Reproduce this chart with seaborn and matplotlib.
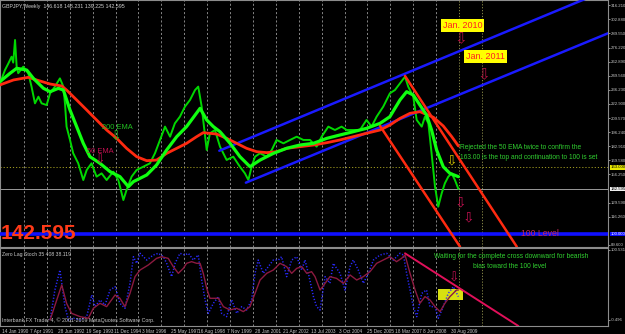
import matplotlib
matplotlib.use("Agg")
import matplotlib.pyplot as plt
import matplotlib.transforms as mtransforms
from matplotlib.patches import Rectangle
import pandas as pd
import seaborn as sns

# ---------------- data ----------------
price_year = [1989.95,1990.17,1990.32,1990.46,1990.53,1990.61,1990.68,1990.75,1990.97,1991.19,
              1991.33,1991.48,1991.63,1991.77,1991.99,1992.14,1992.35,1992.57,1992.72,1992.79,
              1992.86,1993.01,1993.15,1993.37,1993.59,1993.74,1993.95,1994.17,1994.39,1994.61,
              1994.90,1995.12,1995.34,1995.48,1995.70,1995.92,1996.21,1996.50,1996.72,1996.94,
              1997.16,1997.38,1997.59,1997.81,1998.03,1998.25,1998.47,1998.61,1998.76,1998.86,
              1998.98,1999.12,1999.34,1999.56,1999.85,2000.14,2000.43,2000.65,2000.80,2000.94,
              2001.09,2001.31,2001.60,2001.82,2002.03,2002.33,2002.62,2002.91,2003.20,2003.49,
              2003.78,2004.00,2004.29,2004.58,2004.87,2005.09,2005.38,2005.67,2005.96,2006.18,
              2006.40,2006.69,2006.98,2007.20,2007.42,2007.64,2007.78,2008.00,2008.15,2008.37,
              2008.51,2008.66,2008.80,2008.95,2009.09,2009.24,2009.38,2009.53,2009.68,2009.82,
              2009.97]
price_val = [242.4,255.0,261.3,267.6,262.0,283.4,258.2,252.0,258.2,251.9,
             239.3,223.5,229.8,223.5,221.9,233.0,239.3,247.1,239.3,223.5,
             201.5,188.9,176.3,166.8,151.0,160.5,166.8,154.2,157.3,151.0,
             158.9,151.0,132.1,141.6,154.2,160.5,163.6,166.8,176.3,188.9,
             201.5,192.0,204.6,210.9,220.4,226.7,236.1,239.3,220.4,201.5,
             179.4,195.2,198.3,182.6,170.0,173.1,163.6,157.3,151.0,163.6,
             173.1,176.3,173.1,179.4,188.9,185.7,188.9,192.0,188.9,188.9,
             182.6,192.0,201.5,198.3,201.5,198.3,198.3,198.3,207.8,201.5,
             210.9,220.4,233.0,236.1,242.4,248.7,239.3,229.8,207.8,201.5,
             210.9,204.6,176.3,144.7,125.8,138.4,147.9,154.2,157.3,151.0,
             142.6]

ema50_year = [1989.95,1990.39,1990.68,1991.12,1991.41,1991.85,1992.14,1992.50,1992.72,1993.01,
              1993.30,1993.59,1993.88,1994.32,1994.76,1995.19,1995.56,1995.78,1996.36,1996.79,
              1997.23,1997.67,1998.10,1998.69,1998.98,1999.27,1999.56,2000.00,2000.43,2000.87,
              2001.31,2001.89,2002.47,2003.05,2003.64,2004.22,2004.80,2005.38,2005.96,2006.55,
              2006.98,2007.42,2007.71,2008.00,2008.29,2008.58,2008.80,2009.02,2009.31,2009.60,
              2009.97]
ema50_val = [244.0,251.9,256.6,255.0,247.1,237.7,234.5,237.7,236.1,217.2,
             201.5,185.7,173.1,166.8,158.9,154.2,144.7,149.5,155.8,165.2,
             179.4,192.0,201.5,218.8,207.8,201.5,196.7,185.7,173.1,163.6,
             169.9,176.2,181.0,184.1,185.7,190.4,193.6,196.7,199.9,204.6,
             210.9,226.7,234.5,231.4,221.9,212.5,198.3,179.4,163.6,157.3,
             154.2]

ema200_year = [1989.95,1990.54,1991.19,1991.55,1992.14,1992.65,1992.86,1993.30,1993.74,1994.17,
               1994.61,1995.05,1995.48,1995.92,1996.36,1996.79,1997.23,1997.67,1998.10,1998.54,
               1998.83,1999.41,1999.85,2000.29,2000.72,2001.16,2001.60,2002.03,2002.47,2003.05,
               2003.64,2004.22,2004.80,2005.38,2005.96,2006.55,2006.98,2007.42,2007.86,2008.29,
               2008.88,2009.31,2009.68,2009.97]
ema200_val = [240.9,245.6,248.1,245.6,241.8,239.9,236.1,226.7,217.2,207.8,
              198.3,190.4,181.0,173.1,169.3,169.9,176.2,181.0,185.7,192.0,
              195.8,194.5,190.4,185.7,181.0,177.8,176.9,177.8,181.0,182.5,
              184.1,186.3,188.9,192.0,195.2,198.3,203.0,209.3,214.1,215.6,
              210.3,202.1,192.0,183.2]

slow_year = [1992.14,1992.65,1992.86,1993.08,1993.45,1993.81,1994.03,1994.32,1994.61,1994.98,
             1995.19,1995.41,1995.63,1995.85,1996.07,1996.43,1996.79,1997.01,1997.30,1997.52,
             1997.74,1997.96,1998.10,1998.32,1998.54,1998.69,1998.83,1998.98,1999.12,1999.49,
             1999.71,1999.99,2000.29,2000.58,2000.87,2001.09,2001.31,2001.60,2001.89,2002.18,
             2002.47,2002.69,2002.91,2003.13,2003.35,2003.56,2003.71,2003.93,2004.15,2004.36,
             2004.65,2004.95,2005.24,2005.53,2005.82,2006.11,2006.40,2006.69,2006.98,2007.27,
             2007.49,2007.64,2007.86,2008.08,2008.29,2008.51,2008.73,2008.95,2009.17,2009.38,
             2009.60,2009.89,2009.97]
slow_val = [2.8,51.4,25.9,12.0,7.4,5.1,19.0,25.9,21.3,37.5,
            32.9,21.3,39.8,63.0,72.2,79.2,88.4,90.7,88.4,76.9,
            67.6,74.5,81.5,83.8,81.5,81.5,67.6,46.8,32.9,32.9,
            21.3,16.7,19.0,14.4,21.3,39.8,58.3,67.6,72.2,81.5,
            76.9,67.6,74.5,76.9,67.6,69.9,63.0,44.4,53.7,63.0,
            60.6,53.7,65.3,58.3,63.0,69.9,81.5,86.1,90.7,83.8,
            88.4,93.1,67.6,44.4,25.9,35.2,30.6,21.3,14.4,25.9,
            35.2,44.4,44.4]

fast_year = [1992.14,1992.35,1992.57,1992.79,1992.94,1993.16,1993.45,1993.74,1993.96,1994.10,
             1994.32,1994.54,1994.76,1994.98,1995.19,1995.41,1995.63,1995.78,1995.92,1996.07,
             1996.36,1996.65,1996.87,1997.09,1997.23,1997.45,1997.60,1997.81,1998.03,1998.18,
             1998.40,1998.61,1998.76,1998.91,1999.05,1999.27,1999.49,1999.63,1999.85,2000.07,
             2000.29,2000.51,2000.72,2000.94,2001.09,2001.23,2001.45,2001.67,2001.89,2002.11,
             2002.25,2002.47,2002.69,2002.91,2003.13,2003.27,2003.42,2003.64,2003.78,2003.93,
             2004.15,2004.36,2004.51,2004.80,2005.02,2005.24,2005.38,2005.60,2005.82,2006.04,
             2006.26,2006.55,2006.84,2007.13,2007.42,2007.57,2007.71,2007.86,2008.00,2008.15,
             2008.37,2008.58,2008.73,2008.95,2009.09,2009.31,2009.53,2009.75,2009.97]
fast_val = [2.8,44.4,72.2,21.3,2.8,5.1,2.8,7.4,37.5,21.3,
            30.6,23.6,44.4,49.1,25.9,19.0,53.7,90.7,81.5,95.4,
            86.1,93.1,95.4,90.7,81.5,63.0,81.5,95.4,93.1,95.4,
            86.1,93.1,58.3,30.6,12.0,25.9,35.2,12.0,7.4,30.6,
            12.0,21.3,16.7,30.6,67.6,86.1,67.6,76.9,86.1,86.1,
            90.7,63.0,86.1,90.7,72.2,86.1,67.6,35.2,21.3,16.7,
            63.0,53.7,81.5,67.6,44.4,76.9,86.1,72.2,53.7,67.6,
            86.1,93.1,95.4,86.1,95.4,93.1,67.6,44.4,21.3,7.4,
            39.8,44.4,21.3,21.3,5.1,21.3,39.8,49.1,35.2]

# trend lines: (start_year, start_value, end_year, end_value)
blue_upper = [1999.53, 178.7, 2016.50, 331.1]
blue_lower = [2000.69, 148.5, 2016.50, 289.7]
red_upper = [2007.64, 249.4, 2012.52, 88.0]
red_lower = [2006.55, 202.1, 2010.04, 88.0]
osc_trend = [2007.64, 95.4, 2012.59, -5.6]

level_100 = 100.0
last_price = 142.595
top_level = 163.00

price_ticks = [316.210, 302.880, 289.550, 276.220, 262.890, 249.560, 236.230, 222.900,
               209.570, 196.240, 182.910, 169.580, 156.250, 129.590, 116.260, 89.600]
date_pos = [1990.04, 1991.26, 1992.49, 1993.72, 1994.94, 1996.17, 1997.40, 1998.62, 1999.85,
            2001.07, 2002.30, 2003.53, 2004.75, 2005.98, 2007.21, 2008.44, 2009.66]
date_labels = ["14 Jan 1990", "7 Apr 1991", "28 Jun 1992", "19 Sep 1993", "11 Dec 1994",
               "3 Mar 1996", "25 May 1997", "16 Aug 1998", "7 Nov 1999", "28 Jan 2001",
               "21 Apr 2002", "13 Jul 2003", "3 Oct 2004", "25 Dec 2005", "18 Mar 2007",
               "8 Jun 2008", "30 Aug 2009"]
grid_years = list(range(1991, 2010))
marker_years = [2010, 2011]

# ---------------- style ----------------
sns.set_theme(style="dark", rc={"axes.facecolor": "black", "figure.facecolor": "black"})
plt.rcParams["font.family"] = ["Liberation Sans", "DejaVu Sans"]
NARROW = ["Liberation Sans Narrow", "Liberation Sans", "DejaVu Sans"]
ARROW = "\u21e9"

W, H = 625, 334
fig = plt.figure(figsize=(W / 100, H / 100), dpi=100, facecolor="black")
ax1 = fig.add_axes([0, 1 - 247 / H, 608 / W, 247 / H])
ax2 = fig.add_axes([0, 1 - 326 / H, 608 / W, 78 / H])

XMIN, XMAX = 1989.953, 2016.504
for ax in (ax1, ax2):
    ax.set_facecolor("black")
    ax.set_xlim(XMIN, XMAX)
    for s in ax.spines.values():
        s.set_color("#8c8c8c")
        s.set_linewidth(0.8)
    ax.grid(False)
    for gy in grid_years:
        ax.axvline(gy, color="#9a9a9a", lw=0.6, ls=(0, (2.5, 2.5)), zorder=1)
    for my in marker_years:
        ax.axvline(my, color="#9a9a50", lw=0.6, ls=(0, (1.5, 2)), zorder=1)

ax1.set_ylim(87.7, 321.2)
ax2.set_ylim(-5.6, 102.8)

# ---------------- price panel ----------------
ax1.axhline(level_100, color="#1010ff", lw=2.6, zorder=3)
ax1.axhline(last_price, color="#9a9a9a", lw=0.7, zorder=2)
ax1.axhline(top_level, color="#a09a20", lw=0.7, ls=(0, (1.2, 2)), zorder=2)

for line, col in ((blue_upper, "#1a1aff"), (blue_lower, "#1a1aff"),
                  (red_upper, "#ff2a10"), (red_lower, "#ff2a10")):
    sns.lineplot(x=[line[0], line[2]], y=[line[1], line[3]], ax=ax1, color=col, lw=1.8, zorder=5)

dfp = pd.DataFrame({"year": price_year, "price": price_val})
sns.lineplot(data=dfp, x="year", y="price", ax=ax1, color="#00d800", lw=1.4, sort=False,
             estimator=None, zorder=4)
df200 = pd.DataFrame({"year": ema200_year, "v": ema200_val})
sns.lineplot(data=df200, x="year", y="v", ax=ax1, color="#ff2a10", lw=2.0, sort=False,
             estimator=None, zorder=6)
df50 = pd.DataFrame({"year": ema50_year, "v": ema50_val})
sns.lineplot(data=df50, x="year", y="v", ax=ax1, color="#10ff10", lw=2.3, sort=False,
             estimator=None, zorder=7)

ax1.set_xticks([])
ax1.set_xlabel("")
ax1.set_ylabel("")
ax1.yaxis.tick_right()
ax1.set_yticks(price_ticks)
ax1.set_yticklabels([f"{v:.3f}" for v in price_ticks], family=NARROW)
ax1.tick_params(axis="y", colors="#c8c8c8", labelsize=3.1, length=1.2, width=0.5, pad=0.8,
                labelcolor="#c8c8c8")

btr = mtransforms.blended_transform_factory(ax1.transAxes, ax1.transData)
for val, txt, fc, tc in ((top_level, "163.000", "#e8e800", "black"),
                         (last_price, "142.595", "#f0f0f0", "black"),
                         (level_100, "100.000", "#1010ff", "white")):
    ax1.text(1.0035, val, txt, transform=btr, fontsize=3.1, color=tc, va="center", ha="left",
             family=NARROW, bbox=dict(boxstyle="square,pad=0.1", fc=fc, ec="none"), zorder=10,
             clip_on=False)

ax1.text(0.003, 0.985, "GBPJPY,Weekly  146.618 148.231 139.225 142.595", transform=ax1.transAxes,
         fontsize=3.8, color="#d0d0d0", va="top", ha="left")
ax1.text(1990.0, level_100, "142.595", fontsize=15, fontweight="bold", color="#ff3a18",
         va="center", ha="left", zorder=8)
ax1.text(1995.06, 200.2, "200 EMA", fontsize=5.4, color="#20c020", ha="center", va="center", zorder=8)
ax1.text(1995.02, 191.5, ARROW, fontsize=9, color="#20c020", ha="center", va="center", zorder=8,
         family="DejaVu Sans")
ax1.text(1994.34, 178.4, "50 EMA", fontsize=5.4, color="#c01050", ha="center", va="center", zorder=8)
ax1.text(1994.34, 170.0, ARROW, fontsize=9, color="#c01050", ha="center", va="center", zorder=8,
         family="DejaVu Sans")

ax1.text(2010.15, 297.3, "Jan. 2010", fontsize=6.5, color="#ff2020", ha="center", va="center",
         bbox=dict(boxstyle="square,pad=0.2", fc="#ffff00", ec="none"), zorder=9)
ax1.text(2010.06, 285.0, ARROW, fontsize=11, color="#b01040", ha="center", va="center",
         family="DejaVu Sans", zorder=9)
ax1.text(2011.15, 267.6, "Jan. 2011", fontsize=6.5, color="#ff2020", ha="center", va="center",
         bbox=dict(boxstyle="square,pad=0.2", fc="#ffff00", ec="none"), zorder=9)
ax1.text(2011.07, 251.0, ARROW, fontsize=11, color="#b01040", ha="center", va="center",
         family="DejaVu Sans", zorder=9)

ax1.text(2010.04, 181.3, "Rejected the 50 EMA twice to confirm the", fontsize=4.8, color="#30d030",
         ha="left", va="center", zorder=9)
ax1.text(2010.04, 172.6, "163.00 is the top and continuation to 100 is set", fontsize=4.8,
         color="#30d030", ha="left", va="center", zorder=9)
ax1.text(2009.67, 169.5, ARROW, fontsize=10, color="#d0c000", ha="center", va="center",
         family="DejaVu Sans", zorder=9)
ax1.text(2010.06, 129.5, ARROW, fontsize=10, color="#c01050", ha="center", va="center",
         family="DejaVu Sans", zorder=9)
ax1.text(2010.41, 115.5, ARROW, fontsize=10, color="#c01050", ha="center", va="center",
         family="DejaVu Sans", zorder=9)
ax1.text(2013.53, level_100, "100 Level", fontsize=6.2, color="#c8285a", ha="center", va="center",
         zorder=9)

# ---------------- oscillator panel ----------------
ax2.add_patch(Rectangle((2009.07, 30.6), 1.09, 15.2, fc="#d8e010", ec="none", zorder=2))
sns.lineplot(x=[osc_trend[0], osc_trend[2]], y=[osc_trend[1], osc_trend[3]], ax=ax2,
             color="#e0105a", lw=1.4, zorder=5)
dff = pd.DataFrame({"year": fast_year, "v": fast_val})
sns.lineplot(data=dff, x="year", y="v", ax=ax2, color="#2a2aff", lw=1.1, ls=(0, (0.8, 1.2)),
             sort=False, estimator=None, zorder=3)
dfs = pd.DataFrame({"year": slow_year, "v": slow_val})
sns.lineplot(data=dfs, x="year", y="v", ax=ax2, color="#8c1a40", lw=1.0, sort=False,
             estimator=None, zorder=4)

ax2.text(0.004, 0.95, "Zero Lag Stoch 35 408 38.119", transform=ax2.transAxes, fontsize=3.7,
         color="#c8c8c8", va="top", ha="left")
ax2.text(0.004, 0.035, "Interbank FX Trader 4, \u00a9 2001-2009 MetaQuotes Software Corp.",
         transform=ax2.transAxes, fontsize=3.8, color="#c8c8c8", va="bottom", ha="left")
ax2.text(2012.27, 91.0, "Waiting for the complete cross downward for bearish", fontsize=4.8,
         color="#30d030", ha="center", va="center", zorder=9)
ax2.text(2012.20, 76.4, "bias toward the 100 level", fontsize=4.8, color="#30d030",
         ha="center", va="center", zorder=9)
ax2.text(2009.80, 61.5, ARROW, fontsize=9, color="#c01050", ha="center", va="center",
         family="DejaVu Sans", zorder=9)

ax2.set_xlabel("")
ax2.set_ylabel("")
ax2.yaxis.tick_right()
ax2.set_yticks([100.531, 3.0])
ax2.set_yticklabels(["100.531", "-0.496"], family=NARROW)
ax2.tick_params(axis="y", colors="#c8c8c8", labelsize=3.1, length=1.2, width=0.5, pad=0.8)
ax2.set_xticks(date_pos)
ax2.set_xticklabels(date_labels, family=NARROW)
ax2.tick_params(axis="x", colors="#c8c8c8", labelsize=3.4, length=1.5, width=0.5, pad=0.6)
for lab in ax2.get_xticklabels():
    lab.set_ha("left")

fig.savefig("out.png", dpi=100, facecolor="black")
